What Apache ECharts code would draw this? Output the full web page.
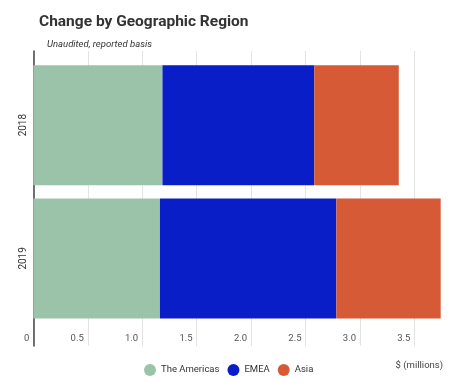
<!DOCTYPE html>
<html><head><meta charset="utf-8">
<script src="https://cdn.jsdelivr.net/npm/echarts@6/dist/echarts.min.js"></script>
<style>html,body{margin:0;padding:0;background:#fff}#c{width:474px;height:389px}</style>
</head><body><div id="c"></div>
<script>
const years = ['2018', '2019'];
const americas = [1.186, 1.163];
const emea = [1.394, 1.620];
const asia = [0.776, 0.958];
const seriesNames = ['The Americas', 'EMEA', 'Asia'];
const tickLabels = ['0', '0.5', '1.0', '1.5', '2.0', '2.5', '3.0', '3.5'];
const colors = ['#9bc3aa', '#0a1ec8', '#d65a35'];

const pxPerUnit = 108.9;
const left = 33.3;
const font = 'Roboto';

const chart = echarts.init(document.getElementById('c'));
chart.setOption({
  animation: false,
  textStyle: { fontFamily: font },
  title: [
    { text: 'Change by Geographic Region', left: 34, top: 9,
      textStyle: { fontFamily: font, fontSize: 15.5, fontWeight: 'bold', color: '#333' } },
    { text: 'Unaudited, reported basis', left: 42, top: 35,
      textStyle: { fontFamily: font, fontSize: 9.5, fontStyle: 'italic', fontWeight: 'normal', color: '#333' } },
    { text: '$ (millions)', right: 26, top: 356,
      textStyle: { fontFamily: font, fontSize: 9.5, fontWeight: 'normal', color: '#444' } }
  ],
  legend: {
    data: seriesNames, left: 139, top: 359, icon: 'circle', itemWidth: 12, itemHeight: 12, itemGap: 8,
    textStyle: { fontFamily: font, fontSize: 9.5, color: '#333' }
  },
  grid: [
    { left: left, top: 51, width: 3.5 * pxPerUnit, height: 295 },
    { left: left, top: 58.5, width: 4 * pxPerUnit, height: 266.5 }
  ],
  xAxis: [
    { gridIndex: 0, type: 'value', min: 0, max: 3.5, interval: 0.5,
      axisLine: { show: false }, axisTick: { show: false },
      splitLine: { show: true, lineStyle: { color: '#e3e3e3', width: 1 } },
      axisLabel: { margin: -12, align: 'right', padding: [0, 4, 0, 0], fontSize: 9.5, color: '#555',
        formatter: (v) => tickLabels[Math.round(v / 0.5)] } },
    { gridIndex: 1, type: 'value', min: 0, max: 4, show: false }
  ],
  yAxis: [
    { gridIndex: 0, type: 'value', min: 0, max: 1, axisLabel: { show: false }, splitLine: { show: false },
      axisTick: { show: false }, axisLine: { show: true, lineStyle: { color: '#444', width: 1.5 } } },
    { gridIndex: 1, type: 'category', data: years, inverse: true,
      axisLine: { show: false }, axisTick: { show: false },
      axisLabel: { rotate: 90, margin: 5, fontSize: 10, color: '#333' } }
  ],
  series: [
    { name: seriesNames[0], type: 'bar', stack: 's', xAxisIndex: 1, yAxisIndex: 1, barWidth: 120, data: americas, itemStyle: { color: colors[0] } },
    { name: seriesNames[1], type: 'bar', stack: 's', xAxisIndex: 1, yAxisIndex: 1, barWidth: 120, data: emea, itemStyle: { color: colors[1] } },
    { name: seriesNames[2], type: 'bar', stack: 's', xAxisIndex: 1, yAxisIndex: 1, barWidth: 120, data: asia, itemStyle: { color: colors[2] } }
  ]
});
</script></body></html>
